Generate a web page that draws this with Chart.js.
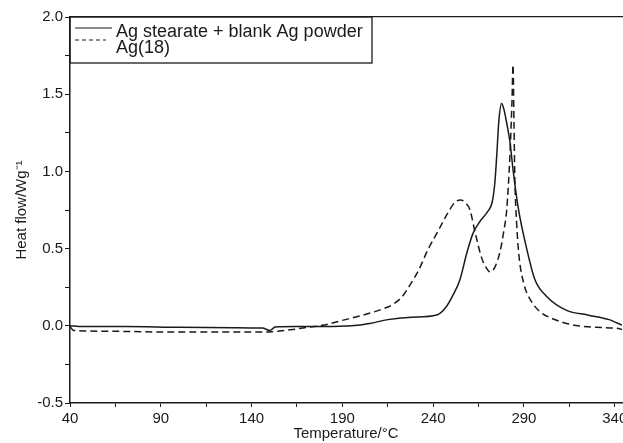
<!DOCTYPE html>
<html>
<head>
<meta charset="utf-8">
<script src="https://cdn.jsdelivr.net/npm/chart.js@4"></script>
<style>
    html, body { margin: 0; padding: 0; background: #fff; }
    canvas { display: block; }
</style>
</head>
<body>
<canvas id="dscChart" width="623" height="443"></canvas>
<script>
// 라벨
const seriesLabels = ['Ag stearate + blank Ag powder', 'Ag(18)'];

// 실선: Ag stearate + blank Ag powder (온도, 열류)
const tempA = [40, 45, 70, 100, 130, 146, 150, 153, 165, 180, 195, 205, 215, 228, 242, 247, 251, 254.8, 258.5, 262, 266, 270, 272.5, 274, 275, 276.2, 277.7, 279, 280.4, 282.3, 284.1, 286.9, 291.5, 296, 302.5, 313.5, 325, 337, 341, 344];
const heatA = [0.0, -0.005, -0.005, -0.01, -0.012, -0.015, -0.03, -0.008, -0.005, -0.005, 0.0, 0.015, 0.04, 0.055, 0.07, 0.12, 0.2, 0.3, 0.47, 0.6, 0.68, 0.74, 0.8, 0.93, 1.1, 1.33, 1.44, 1.4, 1.32, 1.19, 1.0, 0.76, 0.5, 0.3, 0.19, 0.1, 0.07, 0.04, 0.02, 0.005];

// 점선: Ag(18)
const tempB = [40, 42, 60, 90, 120, 148, 152, 158, 165, 172, 180, 190, 200, 210, 218, 223, 227, 232, 237, 243, 248, 252, 255, 257.5, 260.3, 263, 266.7, 269, 271.3, 274, 276.8, 279, 280.5, 282.3, 283.4, 284, 284.5, 285, 286, 287.2, 290, 294, 299, 305, 312, 320, 330, 343, 344];
const heatB = [-0.005, -0.03, -0.035, -0.04, -0.04, -0.04, -0.037, -0.03, -0.02, -0.008, 0.005, 0.035, 0.065, 0.1, 0.14, 0.19, 0.26, 0.36, 0.49, 0.62, 0.73, 0.8, 0.815, 0.8, 0.75, 0.61, 0.44, 0.38, 0.35, 0.38, 0.48, 0.62, 0.75, 1.11, 1.45, 1.69, 1.32, 0.95, 0.66, 0.46, 0.27, 0.16, 0.09, 0.05, 0.02, 0.0, -0.01, -0.02, -0.025];

// 축 눈금: 큰 눈금(라벨)과 작은 눈금
const xTickValues = [40, 65, 90, 115, 140, 165, 190, 215, 240, 265, 290, 315, 340];
const xTickLabels = ['40', '', '90', '', '140', '', '190', '', '240', '', '290', '', '340'];
const yTickValues = [-0.5, -0.25, 0, 0.25, 0.5, 0.75, 1.0, 1.25, 1.5, 1.75, 2.0];
const yTickLabels = ['-0.5', '', '0.0', '', '0.5', '', '1.0', '', '1.5', '', '2.0'];

const xMin = 40, xMax = 344;
const yMin = -0.5, yMax = 2.0;

const ink = '#1a1a1a';
const fontName = '"Liberation Sans", Arial, sans-serif';

function toPoints(xs, ys) {
    return xs.map((x, i) => ({ x: x, y: ys[i] }));
}

// 그래프 안쪽 왼쪽 위 범례 상자
const boxLegend = {
    id: 'boxLegend',
    afterDraw(chart) {
        const ctx = chart.ctx;
        const area = chart.chartArea;
        const left = area.left, top = area.top;
        ctx.save();
        ctx.strokeStyle = ink;
        ctx.lineWidth = 1.3;
        ctx.strokeRect(left, top, 302, 46);
        ctx.font = '18px ' + fontName;
        ctx.fillStyle = ink;
        ctx.textBaseline = 'alphabetic';
        chart.data.datasets.forEach((ds, i) => {
            const y = top + 11 + i * 12;
            ctx.beginPath();
            ctx.setLineDash(i === 0 ? [] : [4, 3]);
            ctx.lineWidth = 1.2;
            ctx.moveTo(left + 5, y);
            ctx.lineTo(left + (i === 0 ? 42 : 36), y);
            ctx.stroke();
            ctx.setLineDash([]);
            ctx.fillText(ds.label, left + 46, top + 20 + i * 16);
        });
        ctx.restore();
    }
};

const ctx = document.getElementById('dscChart').getContext('2d');

new Chart(ctx, {
    type: 'line',
    data: {
        datasets: [{
            label: seriesLabels[0],
            data: toPoints(tempA, heatA),
            borderColor: ink,
            borderWidth: 1.5,
            pointRadius: 0,
            cubicInterpolationMode: 'monotone',
            fill: false,
        }, {
            label: seriesLabels[1],
            data: toPoints(tempB, heatB),
            borderColor: ink,
            borderWidth: 1.5,
            borderDash: [7, 4],
            pointRadius: 0,
            cubicInterpolationMode: 'monotone',
            fill: false,
        }]
    },
    options: {
        responsive: false,
        animation: false,
        events: [],
        layout: { padding: { top: 17, right: 1, left: 0, bottom: 0 } },
        plugins: {
            legend: { display: false },
            tooltip: { enabled: false },
        },
        scales: {
            x: {
                type: 'linear',
                min: xMin,
                max: xMax,
                afterBuildTicks: s => { s.ticks = xTickValues.map(v => ({ value: v })); },
                afterFit: s => { s.height = 40; s.paddingLeft = 0; s.paddingRight = 0; },
                ticks: {
                    autoSkip: false,
                    maxRotation: 0,
                    padding: 3,
                    color: ink,
                    font: { family: fontName, size: 15 },
                    callback: (v, i) => xTickLabels[i],
                },
                grid: { drawOnChartArea: false, tickLength: 4, color: ink, lineWidth: 1 },
                border: { display: true, color: ink, width: 1.5 },
                title: {
                    display: true,
                    text: 'Temperature/°C',
                    color: ink,
                    font: { family: fontName, size: 15 },
                    padding: { top: 0, bottom: 0 },
                },
            },
            xTop: {
                type: 'linear',
                position: 'top',
                min: xMin,
                max: xMax,
                afterFit: s => { s.height = 0; s.paddingLeft = 0; s.paddingRight = 0; },
                ticks: { display: false },
                grid: { display: false },
                border: { display: true, color: ink, width: 1.3 },
            },
            y: {
                min: yMin,
                max: yMax,
                afterBuildTicks: s => { s.ticks = yTickValues.map(v => ({ value: v })); },
                afterFit: s => { s.width = 70; s.paddingTop = 0; s.paddingBottom = 0; },
                ticks: {
                    autoSkip: false,
                    padding: 2,
                    color: ink,
                    font: { family: fontName, size: 15 },
                    callback: (v, i) => yTickLabels[i],
                },
                grid: { drawOnChartArea: false, tickLength: 5, color: ink, lineWidth: 1 },
                border: { display: true, color: ink, width: 1.5 },
                title: {
                    display: true,
                    text: 'Heat flow/Wg⁻¹',
                    color: ink,
                    font: { family: fontName, size: 15 },
                    padding: { top: 13, bottom: 0 },
                },
            },
        },
    },
    plugins: [boxLegend],
});
</script>
</body>
</html>
